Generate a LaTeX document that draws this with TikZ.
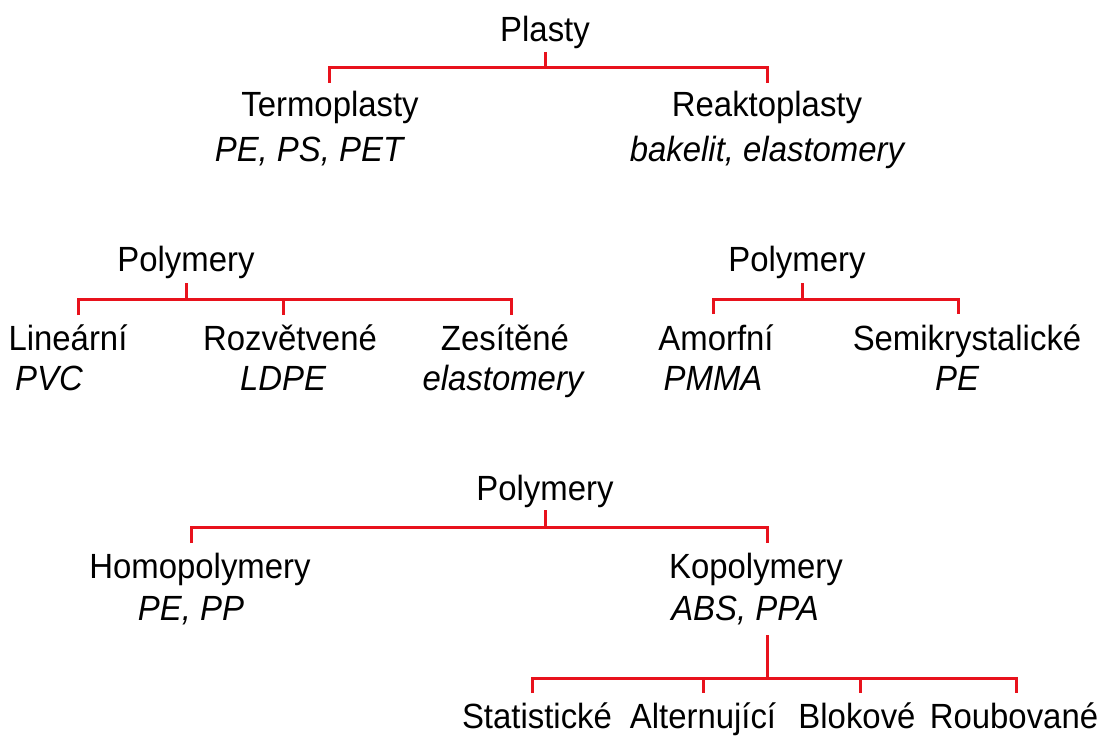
\documentclass[tikz,border=0pt]{standalone}
\usepackage{fontspec}
\setmainfont{Liberation Sans}[FakeStretch=0.94]
\definecolor{treered}{RGB}{232,18,28}
\tikzset{
  lbl/.style={anchor=base, inner sep=0pt, font=\fontsize{35}{42}\selectfont},
  ex/.style={anchor=base, inner sep=0pt, font=\fontsize{35}{42}\selectfont\itshape},
  br/.style={draw=treered, line width=3pt, line join=miter}
}
\begin{document}
\begin{tikzpicture}[x=1pt, y=-1pt]
\useasboundingbox (0,0) rectangle (1108,738);
% ---------- Tree 1 ----------
\node[lbl] (plasty) at (545,42) {Plasty};
\node[lbl] (termo) at (330,117) {Termoplasty};
\node[ex]  (termoex) at (309,162) {PE, PS, PET};
\node[lbl] (reakto) at (767,117) {Reaktoplasty};
\node[ex]  (reaktoex) at (767,162) {bakelit, elastomery};
\coordinate (a0) at (545,52);
\coordinate (a1) at (545,68);
\coordinate (aL) at (329,68);
\coordinate (aR) at (767,68);
\coordinate (aLd) at (329,83);
\coordinate (aRd) at (767,83);
\draw[br] (a0) -- (a1);
\draw[br] (aLd) -- (aL) -- (aR) -- (aRd);
% ---------- Tree 2 ----------
\node[lbl] (polyA) at (186,271) {Polymery};
\node[lbl] (lin) at (68,350) {Lineární};
\node[ex]  (linex) at (49,390) {PVC};
\node[lbl] (roz) at (290,350) {Rozvětvené};
\node[ex]  (rozex) at (283,390) {LDPE};
\node[lbl] (zes) at (505,350) {Zesítěné};
\node[ex]  (zesex) at (503,390) {elastomery};
\coordinate (b0) at (186,283);
\coordinate (b1) at (186,299);
\coordinate (bL) at (78,299);
\coordinate (bR) at (511,299);
\coordinate (bM) at (283,299);
\coordinate (bLd) at (78,315);
\coordinate (bMd) at (283,315);
\coordinate (bRd) at (511,315);
\draw[br] (b0) -- (b1);
\draw[br] (bLd) -- (bL) -- (bR) -- (bRd);
\draw[br] (bM) -- (bMd);
% ---------- Tree 3 ----------
\node[lbl] (polyB) at (797,271) {Polymery};
\node[lbl] (amo) at (716,350) {Amorfní};
\node[ex]  (amoex) at (713,390) {PMMA};
\node[lbl] (semi) at (967,350) {Semikrystalické};
\node[ex]  (semiex) at (957,390) {PE};
\coordinate (c0) at (802,283);
\coordinate (c1) at (802,299);
\coordinate (cL) at (713,299);
\coordinate (cR) at (958,299);
\coordinate (cLd) at (713,314);
\coordinate (cRd) at (958,314);
\draw[br] (c0) -- (c1);
\draw[br] (cLd) -- (cL) -- (cR) -- (cRd);
% ---------- Tree 4 ----------
\node[lbl] (polyC) at (545,500) {Polymery};
\node[lbl] (homo) at (200,578) {Homopolymery};
\node[ex]  (homoex) at (191,620) {PE, PP};
\node[lbl] (kopo) at (756,578) {Kopolymery};
\node[ex]  (kopoex) at (745,620) {ABS, PPA};
\coordinate (d0) at (545,510);
\coordinate (d1) at (545,527);
\coordinate (dL) at (191,527);
\coordinate (dR) at (767,527);
\coordinate (dLd) at (191,543);
\coordinate (dRd) at (767,543);
\draw[br] (d0) -- (d1);
\draw[br] (dLd) -- (dL) -- (dR) -- (dRd);
% ---------- Tree 5 ----------
\node[lbl] (stat) at (537,728) {Statistické};
\node[lbl] (alt) at (703,728) {Alternující};
\node[lbl] (blok) at (857,728) {Blokové};
\node[lbl] (roub) at (1014,728) {Roubované};
\coordinate (e0) at (767,635);
\coordinate (e1) at (767,678);
\coordinate (eL) at (532,678);
\coordinate (eR) at (1016,678);
\coordinate (eA) at (703,678);
\coordinate (eB) at (860,678);
\coordinate (eLd) at (532,693);
\coordinate (eAd) at (703,693);
\coordinate (eBd) at (860,693);
\coordinate (eRd) at (1016,693);
\draw[br] (e0) -- (e1);
\draw[br] (eLd) -- (eL) -- (eR) -- (eRd);
\draw[br] (eA) -- (eAd);
\draw[br] (eB) -- (eBd);
\end{tikzpicture}
\end{document}
